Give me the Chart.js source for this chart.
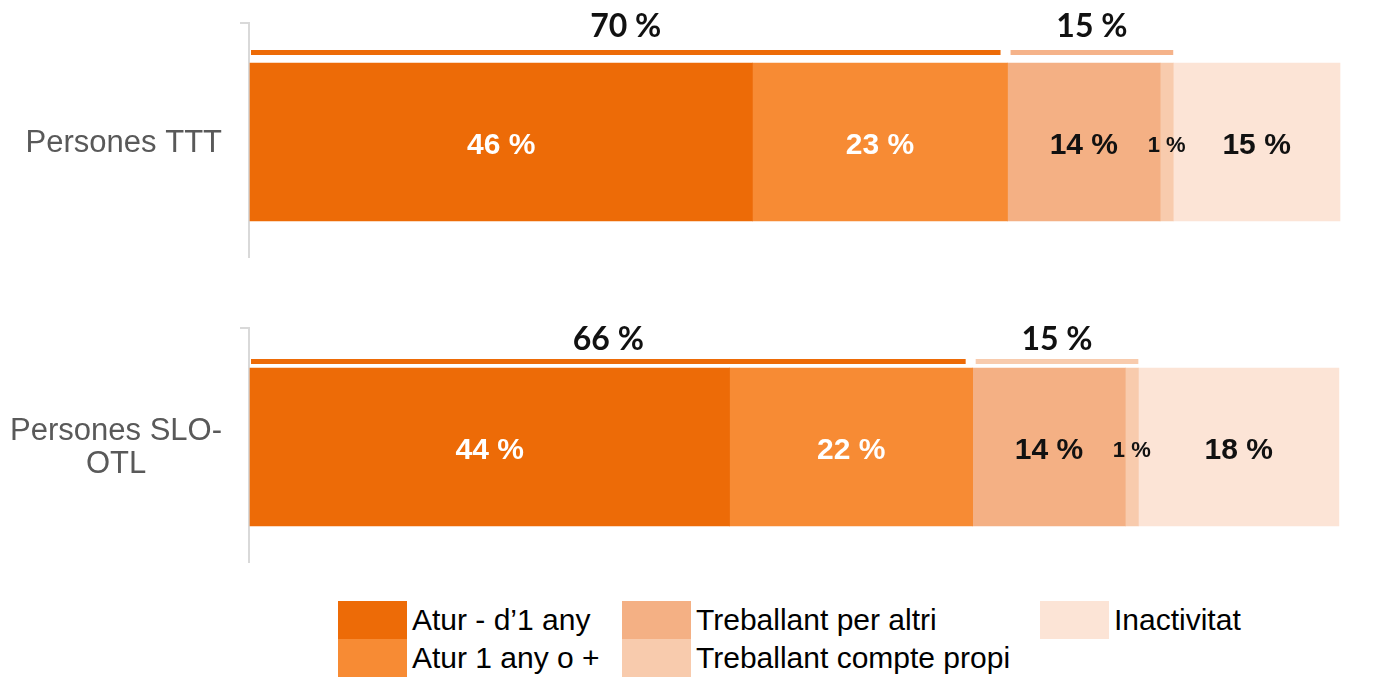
<!DOCTYPE html>
<html>
<head>
<meta charset="utf-8">
<script src="https://cdn.jsdelivr.net/npm/chart.js@4/dist/chart.umd.min.js"></script>
<style>
  body { margin: 0; background: #fff; overflow: hidden; }
  #wrap { position: relative; width: 1376px; height: 677px; }
  #chart { position: absolute; left: 0; top: 0; }
  .item { position: absolute; display: flex; align-items: center; height: 38px;
          font-family: 'Liberation Sans', Arial, sans-serif; font-size: 30px; color: #000; white-space: nowrap; }
  .sw { width: 69px; height: 38px; margin-right: 5px; }
</style>
</head>
<body>
<div id="wrap">
  <canvas id="chart" width="1376" height="595"></canvas>
  <div id="legend"></div>
</div>
<script>
// categories (y axis)
const categories = [['Persones TTT'], ['Persones SLO-', 'OTL']];

// series, in %
const seriesNames = ['Atur - d’1 any', 'Atur 1 any o +', 'Treballant per altri', 'Treballant compte propi', 'Inactivitat'];
const aturMenys1 = [46.1, 44.0];
const atur1Mes = [23.4, 22.3];
const treballAltri = [14.0, 14.0];
const treballPropi = [1.2, 1.2];
const inactivitat = [15.3, 18.4];

const colors = ['#ED6B07', '#F78B34', '#F4B084', '#F8CBAD', '#FCE4D6'];
const bracketColors = [['#ED6B07', '#F5B38A'], ['#ED6B07', '#F8CBAD']];

const allSeries = [aturMenys1, atur1Mes, treballAltri, treballPropi, inactivitat];
const fmt = v => Math.round(v) + ' %';

// gray axis pieces + category labels (each label block right aligned, lines centred)
const axisPieces = {
    id: 'axisPieces',
    beforeDatasetsDraw(chart) {
        const { ctx, chartArea, scales: { y } } = chart;
        ctx.save();
        ctx.strokeStyle = '#D9D9D9';
        ctx.lineWidth = 2;
        ctx.font = '31px "Liberation Sans", Arial, sans-serif';
        ctx.fillStyle = '#595959';
        ctx.textAlign = 'center';
        ctx.textBaseline = 'middle';
        categories.forEach((lines, i) => {
            const yc = y.getPixelForValue(i);
            const x = chartArea.left - 1;
            ctx.beginPath();
            ctx.moveTo(x - 9, yc - 119);
            ctx.lineTo(x, yc - 119);
            ctx.lineTo(x, yc + 116);
            ctx.stroke();

            const widest = Math.max(...lines.map(l => ctx.measureText(l).width));
            const cx = chartArea.left - 28 - widest / 2;
            const lh = 33;
            lines.forEach((l, li) => {
                ctx.fillText(l, cx, yc + 1 + (li - (lines.length - 1) / 2) * lh);
            });
        });
        ctx.restore();
    }
};

// value labels inside bars + group brackets above
const labelsPlugin = {
    id: 'labelsPlugin',
    afterDatasetsDraw(chart) {
        const { ctx, scales: { x, y } } = chart;
        ctx.save();
        ctx.textAlign = 'center';
        ctx.textBaseline = 'middle';
        chart.data.datasets.forEach((ds, di) => {
            chart.getDatasetMeta(di).data.forEach((bar, i) => {
                const v = ds.data[i];
                ctx.fillStyle = di < 2 ? '#FFFFFF' : '#111111';
                ctx.font = 'bold ' + (v < 3 ? 22 : 30) + 'px "Liberation Sans", Arial, sans-serif';
                ctx.fillText(fmt(v), (bar.x + bar.base) / 2, bar.y + 4);
            });
        });

        const lineOff = [92, 88];
        const textOff = [115, 107];
        categories.forEach((c, i) => {
            const yc = y.getPixelForValue(i);
            const groups = [[0, 2], [2, 4]];
            let start = 0;
            groups.forEach((g, gi) => {
                let sum = 0;
                for (let k = g[0]; k < g[1]; k++) sum += allSeries[k][i];
                const x0 = x.getPixelForValue(start);
                const x1 = x.getPixelForValue(start + sum);
                const a = gi === 0 ? x0 + 1 : x0 + 3;
                const b = gi === 0 ? x1 - 7 : x1;
                ctx.fillStyle = bracketColors[i][gi];
                ctx.fillRect(a, yc - lineOff[i], b - a, 5);
                ctx.fillStyle = '#111111';
                ctx.font = 'bold 32px Lato, "Open Sans", sans-serif';
                ctx.fillText(fmt(sum), (a + b) / 2, yc - textOff[i]);
                start += sum;
            });
        });
        ctx.restore();
    }
};

new Chart(document.getElementById('chart'), {
    type: 'bar',
    data: {
        labels: categories,
        datasets: seriesNames.map((name, k) => ({
            label: name,
            data: allSeries[k],
            backgroundColor: colors[k],
            borderWidth: 0,
            barThickness: 158,
            clip: false
        }))
    },
    options: {
        indexAxis: 'y',
        responsive: false,
        devicePixelRatio: 1,
        animation: false,
        layout: { padding: { top: 142, bottom: 148, right: 36, left: 0 } },
        plugins: { legend: { display: false }, tooltip: { enabled: false } },
        scales: {
            x: { stacked: true, min: 0, max: 100, display: false },
            y: {
                stacked: true,
                offset: false,
                grid: { display: false, drawTicks: false },
                border: { display: false },
                ticks: { display: false },
                afterFit(scale) { scale.width = 250; }
            }
        }
    },
    plugins: [axisPieces, labelsPlugin]
});

// legend laid out in columns like the original
const legendCols = [[0, 1], [2, 3], [4]];
const colLeft = [338, 622, 1040];
const legend = document.getElementById('legend');
legendCols.forEach((col, ci) => {
    col.forEach((k, ri) => {
        const item = document.createElement('div');
        item.className = 'item';
        item.style.left = colLeft[ci] + 'px';
        item.style.top = (601 + ri * 38) + 'px';
        item.innerHTML = '<span class="sw" style="background:' + colors[k] + '"></span><span>' + seriesNames[k] + '</span>';
        legend.appendChild(item);
    });
});
</script>
</body>
</html>
